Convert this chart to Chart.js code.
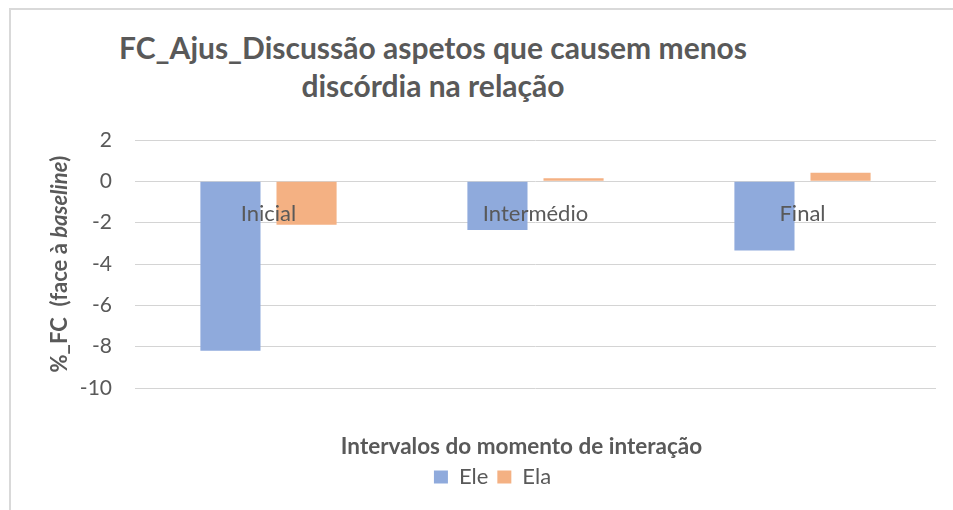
<!DOCTYPE html>
<html>
<head>
<meta charset="utf-8">
<script src="https://cdn.jsdelivr.net/npm/chart.js@4.4.1/dist/chart.umd.min.js"></script>
<style>
  html, body { margin: 0; padding: 0; background: #fff; }
  #wrap { position: relative; width: 953px; height: 510px; overflow: hidden; }
  #frame { position: absolute; left: 9px; top: 8px; right: -5px; bottom: -5px; border-left: 2px solid #d9d9d9; border-top: 2px solid #d9d9d9; }
  #title { position: absolute; left: 0; top: 28px; width: 866px; text-align: center; font: bold 30px Lato; color: #595959; line-height: 38px; }
  canvas { position: absolute; left: 0; top: 0; }
</style>
</head>
<body>
<div id="wrap">
  <div id="frame"></div>
  <div id="title">FC_Ajus_Discussão aspetos que causem menos<br>discórdia na relação</div>
  <canvas id="myChart" width="953" height="510"></canvas>
</div>
<script>
const categories = ['Inicial', 'Intermédio', 'Final'];
const ele = [-8.2, -2.35, -3.35];
const ela = [-2.1, 0.15, 0.42];
const yTicks = [2, 0, -2, -4, -6, -8, -10];

const textColor = '#595959';

// y axis title has a word in italics, so draw it by hand
const yTitlePlugin = {
    id: 'yTitle',
    afterLayout(chart) {
        // x axis title sits a bit left of the plot centre in the original
        chart.scales.x2.left -= 28;
    },
    afterDraw(chart) {
        const ctx = chart.ctx;
        const area = chart.chartArea;
        const parts = [
            ['bold 22px Lato', '%_FC  (face à '],
            ['italic bold 22px Lato', 'baseline'],
            ['bold 22px Lato', ')']
        ];
        ctx.save();
        ctx.translate(60, (area.top + area.bottom) / 2);
        ctx.rotate(-Math.PI / 2);
        let total = 0;
        parts.forEach(p => { ctx.font = p[0]; total += ctx.measureText(p[1]).width; });
        let x = -total / 2;
        ctx.fillStyle = textColor;
        ctx.textBaseline = 'middle';
        parts.forEach(p => {
            ctx.font = p[0];
            ctx.fillText(p[1], x, 0);
            x += ctx.measureText(p[1]).width;
        });
        ctx.restore();
    }
};

const ctx = document.getElementById('myChart').getContext('2d');
const chart = new Chart(ctx, {
    type: 'bar',
    data: {
        labels: categories,
        datasets: [
            { label: 'Ele', data: ele, backgroundColor: '#8faadc', borderWidth: 0 },
            { label: 'Ela', data: ela, backgroundColor: '#f4b183', borderWidth: 0 }
        ]
    },
    options: {
        responsive: false,
        animation: false,
        categoryPercentage: 0.57,
        barPercentage: 0.79,
        layout: { padding: { top: 140, right: 17, bottom: 12, left: 49 } },
        plugins: {
            legend: {
                position: 'bottom',
                labels: {
                    boxWidth: 14,
                    boxHeight: 13,
                    padding: 9,
                    color: textColor,
                    font: { family: 'Lato', size: 22 }
                }
            },
            tooltip: { enabled: false }
        },
        scales: {
            x: {
                position: { y: 0 },
                grid: { display: false },
                border: { display: false },
                ticks: {
                    z: 1,
                    color: textColor,
                    padding: 11,
                    font: { family: 'Lato', size: 22 }
                }
            },
            x2: {
                type: 'category',
                labels: categories,
                position: 'bottom',
                grid: { display: false },
                border: { display: false },
                ticks: { display: false },
                title: {
                    display: true,
                    text: 'Intervalos do momento de interação',
                    color: textColor,
                    padding: { top: 0, bottom: -3 },
                    font: { family: 'Lato', size: 22.5, weight: 'bold' }
                },
                afterFit: scale => { scale.height = 69; }
            },
            y: {
                min: -10,
                max: 2,
                afterBuildTicks: scale => { scale.ticks = yTicks.map(v => ({ value: v })); },
                grid: { color: '#d4d4d4', lineWidth: 1, drawTicks: false },
                border: { display: false },
                ticks: {
                    color: textColor,
                    padding: 23,
                    font: { family: 'Lato', size: 21 }
                },
                afterFit: scale => { scale.width = 86; }
            }
        }
    },
    plugins: [yTitlePlugin]
});
</script>
</body>
</html>
